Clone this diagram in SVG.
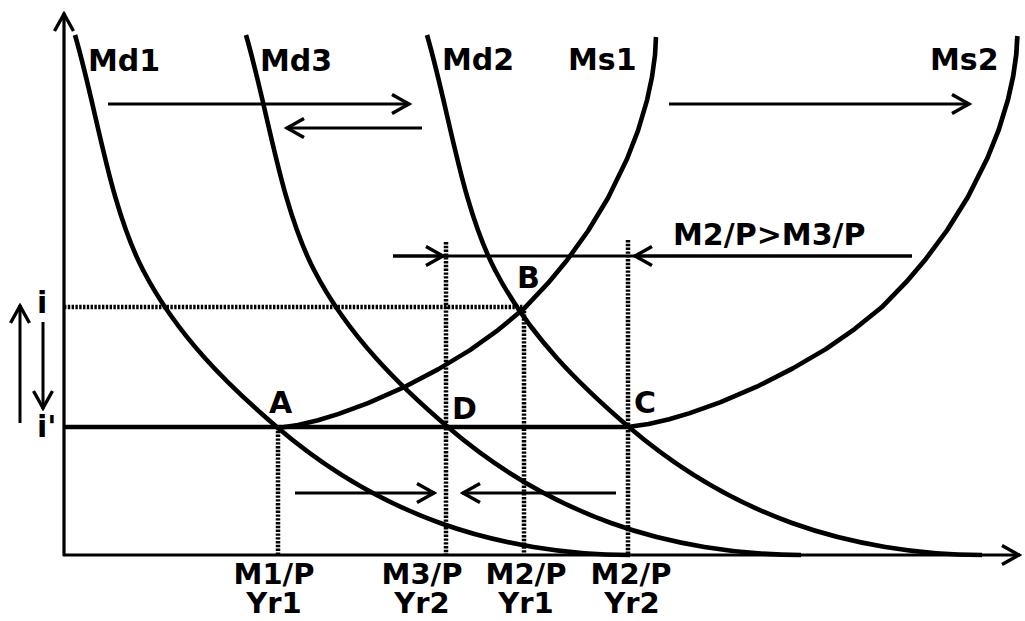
<svg xmlns="http://www.w3.org/2000/svg" width="1025" height="621" viewBox="0 0 1025 621">
<style>
.crv{fill:none;stroke:#000;stroke-width:4.6;stroke-linecap:butt;stroke-linejoin:round}
.ax{fill:none;stroke:#000;stroke-width:3.2}
.arr{fill:none;stroke:#000;stroke-width:3;marker-end:url(#ah)}
.dot{fill:none;stroke:#000;stroke-width:4.5;stroke-dasharray:2.4 1.4}
.lbl{font-family:"DejaVu Sans","Liberation Sans",sans-serif;font-weight:bold;font-size:30px;fill:#000}
.bot{font-size:29px;text-anchor:middle}
</style>
<defs>
<marker id="ah" viewBox="-22 -12 24 24" refX="0" refY="0" markerWidth="24" markerHeight="24" markerUnits="userSpaceOnUse" orient="auto">
<path d="M-18,-9.5 L-1,0 L-18,9.5" fill="none" stroke="#000" stroke-width="3.4" stroke-linejoin="miter"/>
</marker>
<path id="md" d="M75,35 C97.7,113.3 109.2,204.5 143,270 C176.8,335.5 228.5,385.8 278,428 C327.5,470.2 381.3,501.8 440,523 C498.7,544.2 567,555 630,555"/>
<path id="ms" d="M278,428 L298,424.9 L318,420.2 L338,414.1 L368,403.1 L403,387.7 L438,369.4 L470,350.1 L498,330.1 L524,308.6 L548,283.2 L567,260.2 L588,231 L608,198 L627,159 L638,130.6 L647,100.3 L652,77 L655,55.1 L656,37"/>
</defs>
<rect width="1025" height="621" fill="#fff"/>

<g id="axes">
<line class="ax" x1="64" y1="556" x2="64" y2="13" marker-end="url(#ah)"/>
<line class="ax" x1="63" y1="555" x2="1020" y2="555" stroke-width="3.6" marker-end="url(#ah)"/>
</g>

<g id="guides">
<line class="dot" x1="64" y1="307" x2="524" y2="307"/>
<line class="dot" x1="278" y1="427" x2="278" y2="555"/>
<line class="dot" x1="446" y1="242" x2="446" y2="555"/>
<line class="dot" x1="524" y1="307" x2="524" y2="555"/>
<line class="dot" x1="628" y1="240" x2="628" y2="555"/>
<line x1="64" y1="427" x2="630" y2="427" stroke="#000" stroke-width="4.6"/>
</g>

<g id="Md1"><use href="#md" class="crv"/><text class="lbl" x="88" y="71">Md1</text></g>
<g id="Md3"><use href="#md" class="crv" transform="translate(171,0)"/><text class="lbl" x="260" y="71">Md3</text></g>
<g id="Md2"><use href="#md" class="crv" transform="translate(352,0)"/><text class="lbl" x="442" y="70">Md2</text></g>
<g id="Ms1"><use href="#ms" class="crv"/><text class="lbl" x="568" y="70">Ms1</text></g>
<g id="Ms2"><use href="#ms" class="crv" transform="matrix(1.03 0 0 1 341.66 -1)"/><text class="lbl" x="930" y="70">Ms2</text></g>

<g id="points">
<text class="lbl" x="269" y="413">A</text>
<text class="lbl" x="517" y="288">B</text>
<text class="lbl" x="634" y="413">C</text>
<text class="lbl" x="452" y="419">D</text>
<text class="lbl" x="37" y="313">i</text>
<text class="lbl" x="37" y="437">i'</text>
<text class="lbl" x="673" y="245">M2/P&gt;M3/P</text>
</g>

<g id="xlabels">
<text class="lbl bot" x="274" y="584">M1/P<tspan x="274" dy="29">Yr1</tspan></text>
<text class="lbl bot" x="422" y="584">M3/P<tspan x="422" dy="29">Yr2</tspan></text>
<text class="lbl bot" x="526" y="584">M2/P<tspan x="526" dy="29">Yr1</tspan></text>
<text class="lbl bot" x="631" y="584">M2/P<tspan x="632" dy="29">Yr2</tspan></text>
</g>

<g id="connectors">
<line class="arr" x1="108" y1="104" x2="410" y2="104"/>
<line class="arr" x1="422" y1="128" x2="286" y2="128"/>
<line class="arr" x1="669" y1="104" x2="970" y2="104"/>
<line x1="393" y1="256" x2="912" y2="256" stroke="#000" stroke-width="3"/>
<line class="arr" x1="393" y1="256" x2="444" y2="256"/>
<line class="arr" x1="912" y1="256" x2="634" y2="256"/>
<line class="arr" x1="295" y1="493" x2="435" y2="493"/>
<line class="arr" x1="616" y1="493" x2="462" y2="493"/>
<line class="arr" x1="20" y1="423" x2="20" y2="305"/>
<line class="arr" x1="43" y1="322" x2="43" y2="409"/>
</g>
</svg>
